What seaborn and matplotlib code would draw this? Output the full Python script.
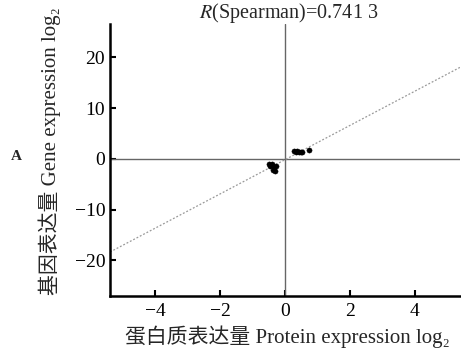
import numpy as np
import pandas as pd
import matplotlib
matplotlib.use("Agg")
import matplotlib.pyplot as plt
import seaborn as sns

# data (log2 fold changes)
protein_log2 = [0.28, 0.33, 0.38, 0.43, 0.48, 0.52, 0.74,
                -0.50, -0.45, -0.40, -0.35, -0.30, -0.38, -0.28]
gene_log2 = [1.6, 1.4, 1.5, 1.4, 1.3, 1.45, 1.8,
             -1.0, -1.4, -1.0, -1.6, -2.3, -2.1, -1.3]
x_ticks = [-4, -2, 0, 2, 4]
y_ticks = [-20, -10, 0, 10, 20]
title_text = r"$\mathit{R}$(Spearman)=0.741 3"
xlabel_text = "蛋白质表达量 Protein expression log₂"
ylabel_text = "基因表达量 Gene expression log₂"
panel_label = "A"

sns.set_style("ticks")
plt.rcParams['font.family'] = ['Liberation Serif', 'Noto Sans CJK SC', 'DejaVu Serif']
plt.rcParams['mathtext.fontset'] = 'stix'

df = pd.DataFrame({"protein": protein_log2, "gene": gene_log2})

fig = plt.figure(figsize=(4.61, 3.56), dpi=100)
ax = fig.add_axes([110/461, 1 - 296/356, 350/461, (296 - 24)/356])

ax.set_xlim(-5.4, 5.4)
ax.set_ylim(-27, 26.6)

ax.axhline(0, color="#666666", lw=1.0, zorder=1)
ax.axvline(0, color="#666666", lw=1.0, zorder=1)

slope, intercept = np.polyfit(df["protein"], df["gene"], 1)
ax.axline((0, intercept), slope=slope, color="#999999", lw=0.9,
          linestyle=(0, (1.5, 1.5)), zorder=1)

sns.scatterplot(data=df, x="protein", y="gene", ax=ax, color="black",
                s=14, edgecolor="black", linewidth=0.3, zorder=3, legend=False)

ax.set_xticks(x_ticks)
ax.set_yticks(y_ticks)
ax.set_xticklabels([str(t).replace("-", "\u2212") for t in x_ticks])
ax.set_yticklabels([str(t).replace("-", "\u2212") for t in y_ticks])
ax.tick_params(direction="in", length=4, width=1.5, labelsize=14, colors="black")
ax.tick_params(axis="x", pad=5)
ax.set_xlabel("")
ax.set_ylabel("")
for s in ["top", "right"]:
    ax.spines[s].set_visible(False)
for s in ["left", "bottom"]:
    ax.spines[s].set_linewidth(1.8)
    ax.spines[s].set_color("black")

fig.text(289/461, 1 - 13/356, title_text, ha="center", va="center", fontsize=14.5)
fig.text(287/461, 1 - 337/356, xlabel_text, ha="center", va="center", fontsize=15)
fig.text(50/461, 1 - 151/356, ylabel_text, ha="center", va="center",
         rotation=90, fontsize=15)
fig.text(16/461, 1 - 157/356, panel_label, ha="center", va="center",
         fontsize=11, fontweight="bold")

fig.savefig("out.png", dpi=100)
